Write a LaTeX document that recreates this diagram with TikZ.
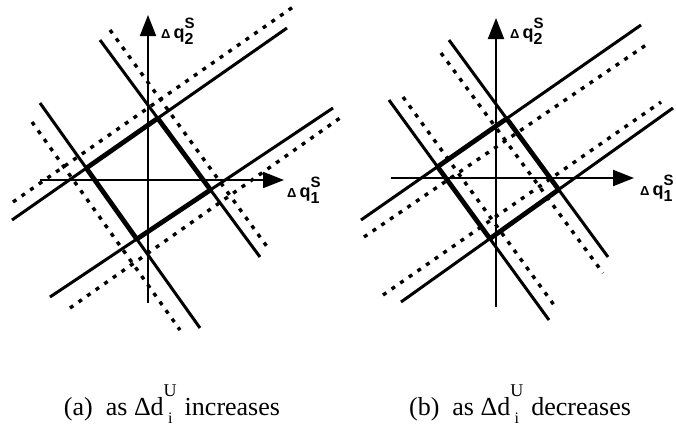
\documentclass[tikz,border=0pt]{standalone}
\usepackage{fontspec}
\setmainfont{Liberation Serif}
\newfontfamily\lblfont{Liberation Sans}
\usetikzlibrary{arrows.meta}
\tikzset{
  solidln/.style={line width=3pt},
  thickln/.style={line width=4.8pt, line join=round},
  dotln/.style={line width=3.4pt, dash pattern=on 4pt off 6.5pt},
  axisln/.style={line width=2pt, -{Triangle[length=21pt,width=16pt]}},
  lbl/.style={font=\lblfont\bfseries\fontsize{18}{18}\selectfont, inner sep=0pt, anchor=base west},
  capt/.style={font=\fontsize{26}{28}\selectfont, inner sep=0pt, anchor=base}
}
\newcommand{\qlab}[1]{{\fontsize{13}{13}\selectfont Δ}\kern3pt q\rlap{\raisebox{10pt}{\fontsize{15}{15}\selectfont S}}\raisebox{-6pt}{\fontsize{16}{16}\selectfont #1}}
\newcommand{\capsub}{d\rlap{\raisebox{19pt}{\fontsize{18}{18}\selectfont U}}\makebox[13pt][c]{\raisebox{-8pt}{\fontsize{16}{16}\selectfont i}}}
\begin{document}
\begin{tikzpicture}[x=1pt,y=-1pt]
\useasboundingbox (0,0) rectangle (676,429);
% ---------- panel (a) ----------
\coordinate (a1s) at (12,220);  \coordinate (a1e) at (287,28);
\coordinate (a1ds) at (13,202); \coordinate (a1de) at (293,7);
\coordinate (a2s) at (50,297);  \coordinate (a2e) at (333,108);
\coordinate (a2ds) at (70,308); \coordinate (a2de) at (340,118);
\coordinate (a3s) at (40,103);  \coordinate (a3e) at (200,328);
\coordinate (a3ds) at (32,122); \coordinate (a3de) at (180,330);
\coordinate (a4s) at (100,40);  \coordinate (a4e) at (260,257);
\coordinate (a4ds) at (110,30); \coordinate (a4de) at (268,248);
\draw[dotln] (a1ds) -- (a1de);
\draw[dotln] (a2ds) -- (a2de);
\draw[dotln] (a3ds) -- (a3de);
\draw[dotln] (a4ds) -- (a4de);
\draw[solidln] (a1s) -- (a1e);
\draw[solidln] (a2s) -- (a2e);
\draw[solidln] (a3s) -- (a3e);
\draw[solidln] (a4s) -- (a4e);
\coordinate (pa13) at (intersection of a1s--a1e and a3s--a3e);
\coordinate (pa14) at (intersection of a1s--a1e and a4s--a4e);
\coordinate (pa24) at (intersection of a2s--a2e and a4s--a4e);
\coordinate (pa23) at (intersection of a2s--a2e and a3s--a3e);
\draw[thickln] (pa13) -- (pa14) -- (pa24) -- (pa23) -- cycle;
\coordinate (axo) at (40,180);  \coordinate (axe) at (284,180);
\coordinate (ayo) at (148,303); \coordinate (aye) at (148,15);
\draw[axisln] (axo) -- (axe);
\draw[axisln] (ayo) -- (aye);
\node[lbl] (la2) at (161,38) {\qlab{2}};
\node[lbl] (la1) at (287,197) {\qlab{1}};
% ---------- panel (b) ----------
\coordinate (b1s) at (361,220);  \coordinate (b1e) at (641,25);
\coordinate (b1ds) at (364,237); \coordinate (b1de) at (646,45);
\coordinate (b2s) at (401,302);  \coordinate (b2e) at (673,108);
\coordinate (b2ds) at (383,295); \coordinate (b2de) at (661,102);
\coordinate (b3s) at (389,100);  \coordinate (b3e) at (549,320);
\coordinate (b3ds) at (403,97);  \coordinate (b3de) at (554,305);
\coordinate (b4s) at (449,40);   \coordinate (b4e) at (608,257);
\coordinate (b4ds) at (441,53);  \coordinate (b4de) at (603,273);
\draw[dotln] (b1ds) -- (b1de);
\draw[dotln] (b2ds) -- (b2de);
\draw[dotln] (b3ds) -- (b3de);
\draw[dotln] (b4ds) -- (b4de);
\draw[solidln] (b1s) -- (b1e);
\draw[solidln] (b2s) -- (b2e);
\draw[solidln] (b3s) -- (b3e);
\draw[solidln] (b4s) -- (b4e);
\coordinate (pb13) at (intersection of b1s--b1e and b3s--b3e);
\coordinate (pb14) at (intersection of b1s--b1e and b4s--b4e);
\coordinate (pb24) at (intersection of b2s--b2e and b4s--b4e);
\coordinate (pb23) at (intersection of b2s--b2e and b3s--b3e);
\draw[thickln] (pb13) -- (pb14) -- (pb24) -- (pb23) -- cycle;
\coordinate (bxo) at (391,178);  \coordinate (bxe) at (634,178);
\coordinate (byo) at (496,307);  \coordinate (bye) at (496,18);
\draw[axisln] (bxo) -- (bxe);
\draw[axisln] (byo) -- (bye);
\node[lbl] (lb2) at (510,38) {\qlab{2}};
\node[lbl] (lb1) at (640,195) {\qlab{1}};
% ---------- captions ----------
\node[capt] (capa) at (172,415) {(a)\hspace{0.5em}as Δ\capsub\hspace{8pt}increases};
\node[capt] (capb) at (520,415) {(b)\hspace{0.5em}as Δ\capsub\hspace{8pt}decreases};
\end{tikzpicture}
\end{document}
